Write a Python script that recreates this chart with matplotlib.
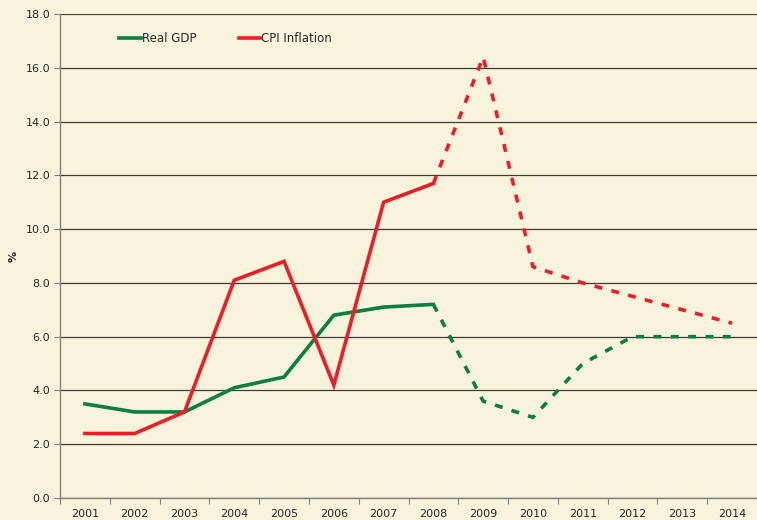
import matplotlib.pyplot as plt
import numpy as np

years = ['2001', '2002', '2003', '2004', '2005', '2006', '2007',
         '2008', '2009', '2010', '2011', '2012', '2013', '2014']
gdp = [3.5, 3.2, 3.2, 4.1, 4.5, 6.8, 7.1, 7.2, 3.6, 3.0, 5.0, 6.0, 6.0, 6.0]
cpi = [2.4, 2.4, 3.2, 8.1, 8.8, 4.2, 11.0, 11.7, 16.4, 8.6, 8.0, 7.5, 7.0, 6.5]
last_actual = 7  # index of 2008, forecasts after

bg = '#F8F4DC'
green = '#0B7F3E'
red = '#EE1D25'

fig = plt.figure(figsize=(7.57, 5.20), dpi=100, facecolor=bg)
ax = fig.add_axes([60 / 757, 22 / 520, 697 / 757, 484 / 520])
ax.set_facecolor(bg)

x = np.arange(len(years)) + 0.5
k = last_actual + 1
ax.plot(x[:k], gdp[:k], color=green, lw=2.6, label='Real GDP', solid_joinstyle='miter')
ax.plot(x[:k], cpi[:k], color=red, lw=2.6, label='CPI Inflation', solid_joinstyle='miter')
ax.plot(x[k - 1:], gdp[k - 1:], color=green, lw=2.6, dashes=(2.2, 2.6))
ax.plot(x[k - 1:], cpi[k - 1:], color=red, lw=2.6, dashes=(2.2, 2.6))

ax.set_xlim(0, len(years))
ax.set_ylim(0, 18)
ax.set_yticks(np.arange(0, 18.1, 2))
ax.set_yticklabels(['%.1f' % v for v in np.arange(0, 18.1, 2)])
ax.yaxis.grid(True, color='#3c3c3c', lw=0.9)
ax.set_axisbelow(True)

ax.set_xticks(np.arange(len(years) + 1))
ax.set_xticklabels([])
ax.set_xticks(x, minor=True)
ax.set_xticklabels(years, minor=True)
ax.tick_params(axis='x', which='major', length=4, color='#808080', direction='out')
ax.tick_params(axis='x', which='minor', length=0, pad=8)
ax.tick_params(axis='y', length=4, color='#808080', direction='out', pad=3)
ax.tick_params(which='both', labelsize=8, labelcolor='#262626')

for s in ['top', 'right']:
    ax.spines[s].set_visible(False)
for s in ['left', 'bottom']:
    ax.spines[s].set_color('#808080')
    ax.spines[s].set_linewidth(1)

ax.set_ylabel('%', fontsize=8, fontweight='bold', color='#262626', labelpad=5)

ax.legend(loc='upper left', bbox_to_anchor=(0.07, 0.985), ncol=2, frameon=False,
          fontsize=8.5, handlelength=1.8, handletextpad=0.1, columnspacing=3.6,
          labelcolor='#262626')

fig.savefig('out.png', dpi=100, facecolor=bg)
